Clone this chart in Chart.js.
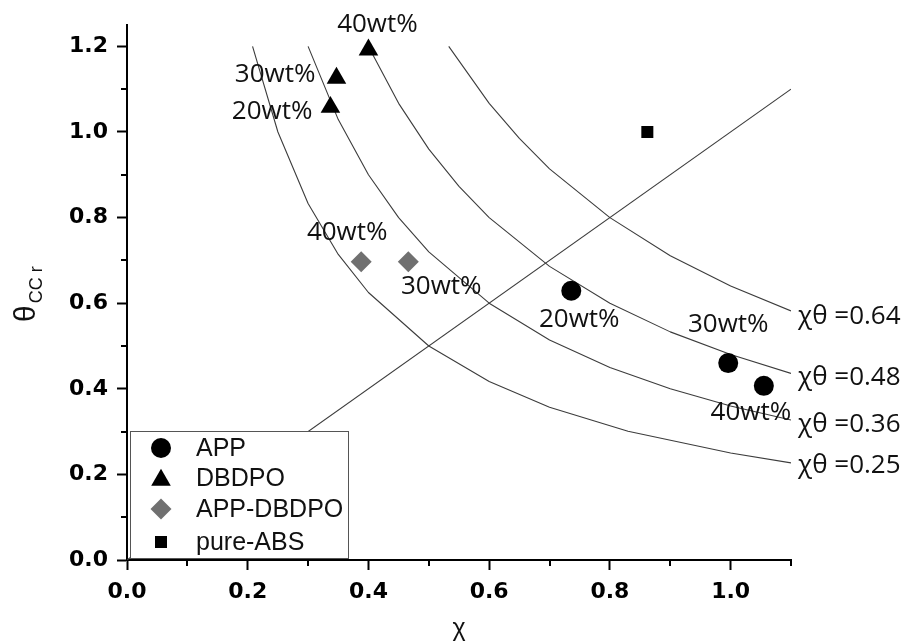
<!DOCTYPE html>
<html>
<head>
<meta charset="utf-8">
<script src="https://cdn.jsdelivr.net/npm/chart.js@4/dist/chart.umd.min.js"></script>
<style>
  html, body { margin: 0; padding: 0; background: #fff; }
  #wrap { width: 907px; height: 641px; }
</style>
</head>
<body>
<div id="wrap"><canvas id="c" width="907" height="641"></canvas></div>
<script>
// Measured points: crosslinking extent (x) against theta_CCr (y)
const appX = [0.736, 0.996, 1.055];
const appY = [0.629, 0.460, 0.407];
const appLabels = ['20wt%', '30wt%', '40wt%'];

const dbdpoX = [0.337, 0.347, 0.400];
const dbdpoY = [1.058, 1.126, 1.192];
const dbdpoLabels = ['20wt%', '30wt%', '40wt%'];

const mixX = [0.388, 0.466];
const mixY = [0.697, 0.697];
const mixLabels = ['40wt%', '30wt%'];

const absX = [0.862];
const absY = [1.0];

// Iso-product curves  x * theta = const
const isoLabels = ['\u03c7\u03b8 =0.25', '\u03c7\u03b8 =0.36', '\u03c7\u03b8 =0.48', '\u03c7\u03b8 =0.64'];
const iso025X = [0.208, 0.25, 0.30, 0.35, 0.40, 0.50, 0.60, 0.70, 0.83, 1.00, 1.10];
const iso025Y = [1.200, 1.000, 0.833, 0.714, 0.625, 0.500, 0.417, 0.357, 0.301, 0.250, 0.227];
const iso036X = [0.30, 0.35, 0.40, 0.45, 0.50, 0.60, 0.70, 0.80, 0.90, 1.00, 1.10];
const iso036Y = [1.200, 1.029, 0.900, 0.800, 0.720, 0.600, 0.514, 0.450, 0.400, 0.360, 0.327];
const iso048X = [0.40, 0.45, 0.50, 0.55, 0.60, 0.70, 0.80, 0.90, 1.00, 1.10];
const iso048Y = [1.200, 1.067, 0.960, 0.873, 0.800, 0.686, 0.600, 0.533, 0.480, 0.436];
const iso064X = [0.533, 0.60, 0.65, 0.70, 0.80, 0.90, 1.00, 1.10];
const iso064Y = [1.200, 1.067, 0.985, 0.914, 0.800, 0.711, 0.640, 0.582];

// Diagonal reference line  theta = x
const diagX = [0.0, 1.1];
const diagY = [0.0, 1.1];

// Axis ticks
const xTicks = [0.0, 0.2, 0.4, 0.6, 0.8, 1.0];
const yTicks = [0.0, 0.2, 0.4, 0.6, 0.8, 1.0, 1.2];
const xMinorTicks = [0.1, 0.3, 0.5, 0.7, 0.9, 1.1];
const yMinorTicks = [0.1, 0.3, 0.5, 0.7, 0.9, 1.1];

const zip = (xs, ys) => xs.map((x, i) => ({ x: x, y: ys[i] }));

const LINE_COLOR = '#3c3c3c';
const isoSets = [[iso025X, iso025Y], [iso036X, iso036Y], [iso048X, iso048Y], [iso064X, iso064Y]];

const datasets = [
  { label: 'APP', data: zip(appX, appY), pointStyle: 'circle', pointRadius: 10,
    backgroundColor: '#000', borderColor: '#000', borderWidth: 0, showLine: false },
  { label: 'DBDPO', data: zip(dbdpoX, dbdpoY), pointStyle: 'triangle', pointRadius: 11.3,
    backgroundColor: '#000', borderColor: '#000', borderWidth: 0, showLine: false },
  { label: 'APP-DBDPO', data: zip(mixX, mixY), pointStyle: 'rectRot', pointRadius: 10.5,
    backgroundColor: '#707070', borderColor: '#707070', borderWidth: 0, showLine: false },
  { label: 'pure-ABS', data: zip(absX, absY), pointStyle: 'rect', pointRadius: 8.5,
    backgroundColor: '#000', borderColor: '#000', borderWidth: 0, showLine: false }
];
isoSets.forEach((s, i) => {
  datasets.push({ label: isoLabels[i], data: zip(s[0], s[1]), showLine: true, pointRadius: 0,
    borderColor: LINE_COLOR, borderWidth: 1.1, tension: 0, fill: false });
});
datasets.push({ label: 'diag', data: zip(diagX, diagY), showLine: true, pointRadius: 0,
  borderColor: LINE_COLOR, borderWidth: 1.1, tension: 0, fill: false });

const ANNO_FONT = '26px "Open Sans"';

// Text beside the points and at the ends of the curves
const annotations = {
  id: 'annotations',
  afterDatasetsDraw(chart) {
    const ctx = chart.ctx;
    const xs = chart.scales.x, ys = chart.scales.y;
    ctx.save();
    ctx.fillStyle = '#111';
    ctx.font = ANNO_FONT;
    ctx.textBaseline = 'middle';
    const put = (vx, vy, text, dx, dy, align) => {
      ctx.textAlign = align;
      ctx.fillText(text, xs.getPixelForValue(vx) + dx, ys.getPixelForValue(vy) + dy);
    };
    // APP
    const appOff = [[8, 29], [0, -39], [-13, 27]];
    appX.forEach((v, i) => put(v, appY[i], appLabels[i], appOff[i][0], appOff[i][1], 'center'));
    // DBDPO
    const dbOff = [[-18, 4, 'right'], [-21, -3, 'right'], [9, -25, 'center']];
    dbdpoX.forEach((v, i) => put(v, dbdpoY[i], dbdpoLabels[i], dbOff[i][0], dbOff[i][1], dbOff[i][2]));
    // APP-DBDPO
    const mixOff = [[-14, -29], [33, 25]];
    mixX.forEach((v, i) => put(v, mixY[i], mixLabels[i], mixOff[i][0], mixOff[i][1], 'center'));
    // Curve end labels
    const isoDy = [3, 5, 4, 6];
    isoSets.forEach((s, i) => {
      const n = s[0].length - 1;
      put(s[0][n], s[1][n], isoLabels[i], 7, isoDy[i], 'left');
    });
    ctx.restore();
  }
};

// Boxed key in the lower-left corner of the plot
const keyBox = {
  id: 'keyBox',
  afterDatasetsDraw(chart) {
    const ctx = chart.ctx;
    const area = chart.chartArea;
    const left = area.left + 3, top = area.top + 406, w = 218, h = 127;
    ctx.save();
    ctx.fillStyle = '#fff';
    ctx.fillRect(left, top, w, h);
    ctx.strokeStyle = '#555';
    ctx.lineWidth = 1;
    ctx.strokeRect(left + 0.5, top + 0.5, w, h);
    const rowY = [17, 47, 78, 111];
    const mx = left + 31, tx = left + 66;
    ctx.font = '25px "Liberation Sans", Arial, sans-serif';
    ctx.textAlign = 'left';
    ctx.textBaseline = 'middle';
    for (let i = 0; i < 4; i++) {
      const ds = chart.data.datasets[i];
      const y = top + rowY[i];
      ctx.fillStyle = ds.backgroundColor;
      ctx.beginPath();
      const r = ds.pointRadius;
      if (ds.pointStyle === 'circle') {
        ctx.arc(mx, y, r, 0, Math.PI * 2);
      } else if (ds.pointStyle === 'triangle') {
        const yc = y + 2;
        ctx.moveTo(mx, yc - r);
        ctx.lineTo(mx + r * Math.sin(Math.PI * 2 / 3), yc - r * Math.cos(Math.PI * 2 / 3));
        ctx.lineTo(mx - r * Math.sin(Math.PI * 2 / 3), yc - r * Math.cos(Math.PI * 2 / 3));
        ctx.closePath();
      } else if (ds.pointStyle === 'rectRot') {
        ctx.moveTo(mx, y - r); ctx.lineTo(mx + r, y); ctx.lineTo(mx, y + r); ctx.lineTo(mx - r, y);
        ctx.closePath();
      } else {
        const s = r * Math.SQRT1_2;
        ctx.rect(mx - s, y - s, 2 * s, 2 * s);
      }
      ctx.fill();
      ctx.fillStyle = '#111';
      ctx.fillText(ds.label, tx, y + 1);
    }
    ctx.restore();
  }
};

// Minor tick marks and axis titles
const axisExtras = {
  id: 'axisExtras',
  afterDraw(chart) {
    const ctx = chart.ctx;
    const xs = chart.scales.x, ys = chart.scales.y;
    const area = chart.chartArea;
    ctx.save();
    ctx.strokeStyle = '#000';
    ctx.lineWidth = 2;
    ctx.beginPath();
    xMinorTicks.forEach(v => {
      const px = Math.round(xs.getPixelForValue(v));
      ctx.moveTo(px, area.bottom); ctx.lineTo(px, area.bottom + 6);
    });
    yMinorTicks.forEach(v => {
      const py = Math.round(ys.getPixelForValue(v));
      ctx.moveTo(area.left, py); ctx.lineTo(area.left - 6, py);
    });
    ctx.stroke();

    // x title
    ctx.fillStyle = '#111';
    ctx.font = '25px "Liberation Sans", Arial, sans-serif';
    ctx.textAlign = 'center';
    ctx.textBaseline = 'alphabetic';
    ctx.fillText('\u03c7', (area.left + area.right) / 2, 636);

    // y title with subscript
    ctx.translate(35, 322);
    ctx.rotate(-Math.PI / 2);
    ctx.textAlign = 'left';
    ctx.font = '30px "Liberation Sans", Arial, sans-serif';
    ctx.fillText('\u03b8', 0, 0);
    const w = ctx.measureText('\u03b8').width;
    ctx.font = '18px "Liberation Sans", Arial, sans-serif';
    ctx.fillText('CC r', w + 2, 7);
    ctx.restore();
  }
};

Chart.defaults.font.family = '"DejaVu Sans", sans-serif';

new Chart(document.getElementById('c'), {
  type: 'scatter',
  data: { datasets: datasets },
  options: {
    responsive: false,
    animation: false,
    devicePixelRatio: 1,
    layout: { padding: { top: 25, right: 116, left: 0, bottom: 0 } },
    plugins: { legend: { display: false }, tooltip: { enabled: false } },
    elements: { line: { borderJoinStyle: 'round' } },
    scales: {
      x: {
        type: 'linear', min: 0, max: 1.1,
        afterBuildTicks: s => { s.ticks = xTicks.map(v => ({ value: v })); },
        afterFit: s => { s.height = 81; },
        ticks: { color: '#000', font: { size: 22, weight: 'bold' }, padding: 9,
                 callback: v => v.toFixed(1), maxRotation: 0, autoSkip: false },
        grid: { drawOnChartArea: false, drawTicks: true, tickLength: 10, tickWidth: 2, tickColor: '#000' },
        border: { display: true, color: '#000', width: 2 }
      },
      y: {
        type: 'linear', min: 0, max: 1.25,
        afterBuildTicks: s => { s.ticks = yTicks.map(v => ({ value: v })); },
        afterFit: s => { s.width = 127; },
        ticks: { color: '#000', font: { size: 22, weight: 'bold' }, padding: 9,
                 callback: v => v.toFixed(1), autoSkip: false },
        grid: { drawOnChartArea: false, drawTicks: true, tickLength: 10, tickWidth: 2, tickColor: '#000' },
        border: { display: true, color: '#000', width: 2 }
      }
    }
  },
  plugins: [annotations, keyBox, axisExtras]
});
</script>
</body>
</html>
